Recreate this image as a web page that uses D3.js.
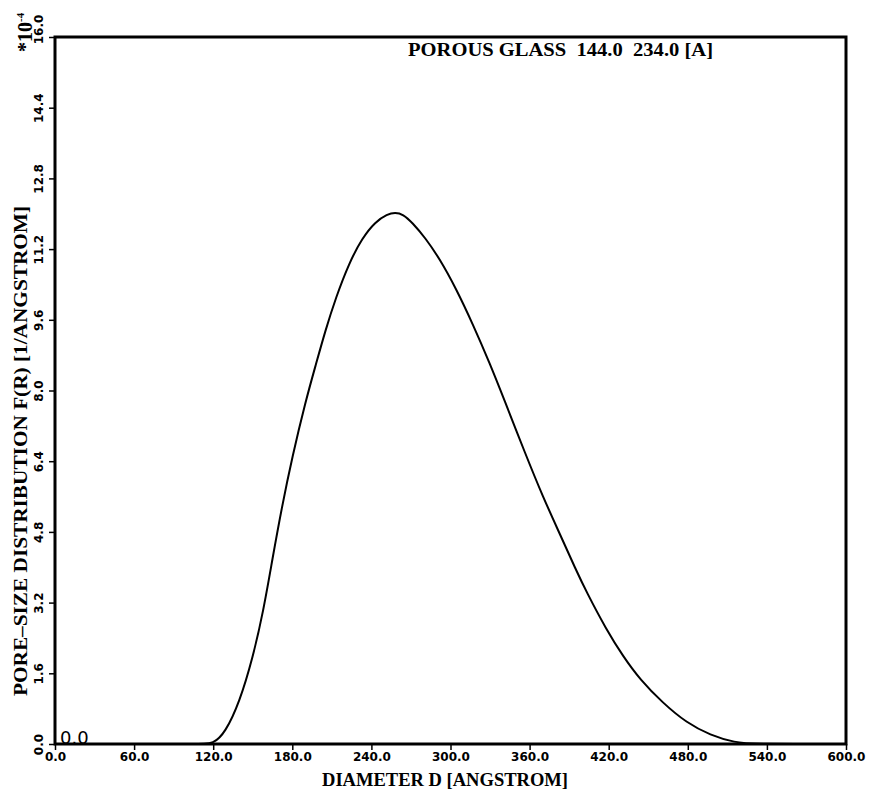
<!DOCTYPE html>
<html><head><meta charset="utf-8">
<script src="https://cdn.jsdelivr.net/npm/d3@7"></script>
<style>body{margin:0;background:#fff;} svg{display:block;}</style>
</head><body>
<svg id="chart" width="872" height="796"></svg>
<script>
const diameter = [0, 110, 120, 129, 140, 150, 158, 165, 172, 180, 190, 198, 205, 213, 223, 233, 243, 252, 258, 264, 271, 281, 292, 304, 317, 330, 340, 357, 370, 383, 395, 403, 418, 431, 444, 461, 479, 497, 516, 530, 600];
const poreDist = [0, 0, 0, 0.25, 0.95, 1.95, 3.0, 4.2, 5.35, 6.5, 7.75, 8.6, 9.35, 10.1, 10.88, 11.45, 11.82, 11.99, 12.03, 11.99, 11.8, 11.45, 10.97, 10.32, 9.5, 8.6, 7.85, 6.55, 5.6, 4.75, 3.95, 3.45, 2.6, 1.98, 1.45, 0.93, 0.48, 0.2, 0.03, 0, 0];
const xTicks = [0, 60, 120, 180, 240, 300, 360, 420, 480, 540, 600];
const yTicks = [0, 1.6, 3.2, 4.8, 6.4, 8.0, 9.6, 11.2, 12.8, 14.4, 16.0];
const titleText = "POROUS GLASS  144.0  234.0 [A]";
const xLabel = "DIAMETER D [ANGSTROM]";
const yLabel = "PORE\u2013SIZE DISTRIBUTION F(R) [1/ANGSTROM]";

const svg = d3.select("#chart");
const L = 55, R = 846, T = 37, B = 744;
const x = d3.scaleLinear().domain([0, 600]).range([L, R]);
const y = d3.scaleLinear().domain([0, 16]).range([B, T]);
const tickFont = "'DejaVu Sans', sans-serif";
const serif = "'Liberation Serif', 'DejaVu Serif', serif";

// x axis
const xAxis = svg.append("g").attr("transform", `translate(0,${B})`)
  .call(d3.axisBottom(x).tickValues(xTicks).tickFormat(d3.format(".1f")).tickSize(6).tickSizeOuter(0));
xAxis.select(".domain").remove();
xAxis.selectAll("line").attr("stroke", "#000").attr("stroke-width", 1.5);
xAxis.selectAll("text").attr("font-family", tickFont).attr("font-weight", "bold")
  .attr("font-size", 12).attr("dy", "0.7em").attr("fill", "#000");

// y axis
const yAxis = svg.append("g").attr("transform", `translate(${L},0)`)
  .call(d3.axisLeft(y).tickValues(yTicks).tickFormat(d3.format(".1f")).tickSize(6).tickSizeOuter(0));
yAxis.select(".domain").remove();
yAxis.selectAll("line").attr("stroke", "#000").attr("stroke-width", 1.5);
yAxis.selectAll("text")
  .attr("font-family", tickFont).attr("font-weight", "bold").attr("font-size", 12).attr("fill", "#000")
  .attr("text-anchor", "middle").attr("x", null).attr("dy", null)
  .attr("transform", d => `translate(-12,${d === 16 ? -8 : 0}) rotate(-90)`);

// frame
svg.append("rect").attr("x", L).attr("y", T).attr("width", R - L).attr("height", B - T)
  .attr("fill", "none").attr("stroke", "#000").attr("stroke-width", 3);

// curve
const line = d3.line().x((d, i) => x(diameter[i])).y(d => y(d)).curve(d3.curveBasis);
svg.append("path").datum(poreDist).attr("d", line)
  .attr("fill", "none").attr("stroke", "#000").attr("stroke-width", 2);

// title
svg.append("text").attr("x", 408).attr("y", 56).text(titleText)
  .attr("font-family", serif).attr("font-weight", "bold").attr("font-size", 18)
  .attr("textLength", 305).attr("lengthAdjust", "spacingAndGlyphs")
  .style("white-space", "pre");

// x label
svg.append("text").attr("x", 445).attr("y", 786).attr("text-anchor", "middle").text(xLabel)
  .attr("font-family", serif).attr("font-weight", "bold").attr("font-size", 18)
  .attr("textLength", 246).attr("lengthAdjust", "spacingAndGlyphs");

// y label
svg.append("text").attr("transform", "translate(27,451) rotate(-90)").attr("text-anchor", "middle").text(yLabel)
  .attr("font-family", serif).attr("font-weight", "bold").attr("font-size", 19)
  .attr("textLength", 490).attr("lengthAdjust", "spacingAndGlyphs");

// exponent
const ex = svg.append("text").attr("transform", "translate(32,52) rotate(-90)")
  .attr("font-family", serif).attr("font-weight", "bold").attr("font-size", 20);
ex.append("tspan").text("*10");
ex.append("tspan").attr("dy", -8).attr("font-size", 11).text("-4");

// stray origin label inside plot
svg.append("text").attr("x", 60).attr("y", 744).text("0.0")
  .attr("font-family", tickFont).attr("font-size", 18).attr("fill", "#000");
</script>
</body></html>
